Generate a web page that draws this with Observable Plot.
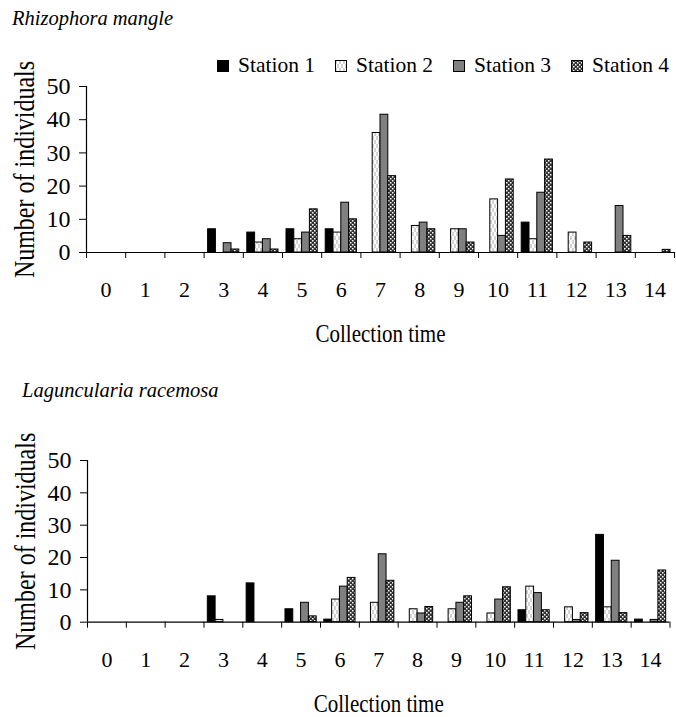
<!DOCTYPE html>
<html><head><meta charset="utf-8">
<script src="https://cdn.jsdelivr.net/npm/d3@7"></script>
<script src="https://cdn.jsdelivr.net/npm/@observablehq/plot@0.6"></script>
<style>
body{margin:0;background:#fff;font-family:"Liberation Serif",serif;color:#000}
#wrap{position:relative;width:676px;height:717px;overflow:hidden;background:#fff}
.title{position:absolute;font-style:italic;font-size:20.5px;line-height:1;white-space:nowrap}
.legend{position:absolute;display:flex;font-size:21.5px;line-height:1}
.legend .item{display:flex;align-items:center;width:118px;white-space:nowrap}
.legend svg{margin-right:9px;display:block}
.plot{position:absolute;left:0}
</style></head>
<body>
<svg width="0" height="0" style="position:absolute">
<defs>
<pattern id="pat2" width="4" height="8" patternUnits="userSpaceOnUse">
<rect width="4" height="8" fill="#fff"/><rect width="2" height="4" fill="#d2d2d2"/><rect x="2" y="4" width="2" height="4" fill="#d2d2d2"/>
</pattern>
<pattern id="pat4" width="4" height="4" patternUnits="userSpaceOnUse">
<rect width="4" height="4" fill="#333"/><rect width="1.5" height="1.5" fill="#fff"/><rect x="2" y="2" width="1.5" height="1.5" fill="#fff"/>
</pattern>
</defs></svg>
<div id="wrap"></div>
<script>
// ---- data ----
const collectionTimes = [0,1,2,3,4,5,6,7,8,9,10,11,12,13,14];
const stations = ["Station 1","Station 2","Station 3","Station 4"];
const yTicks = [0,10,20,30,40,50];
const xTitle = "Collection time";
const yTitle = "Number of individuals";

// Rhizophora mangle
const rhizophoraStation1 = [0,0,0,7,6,7,7,0,0,0,0,9,0,0,0];
const rhizophoraStation2 = [0,0,0,0,3,4,6,36,8,7,16,4,6,0,0];
const rhizophoraStation3 = [0,0,0,2.8,4,6,15,41.5,9,7,5,18,0,14,0];
const rhizophoraStation4 = [0,0,0,0.9,0.9,13,10,23,7,3,22,28,3,5,0.8];

// Laguncularia racemosa
const laguncStation1 = [0,0,0,8,12,4,0.8,0,0,0,0,3.7,0,27,0.8];
const laguncStation2 = [0,0,0,0.7,0,0,7,6,4,4,2.7,11,4.6,4.6,0];
const laguncStation3 = [0,0,0,0,0,6,11,21,2.7,6,7,9,0.7,19,0.7];
const laguncStation4 = [0,0,0,0,0,1.8,13.7,12.8,4.7,8,10.8,3.7,2.8,2.8,16];

const fills = ["#000000","url(#pat2)","#808080","url(#pat4)"];

function rowsOf(series){
  const rows = [];
  series.forEach((vals, si) => vals.forEach((v, ti) => rows.push({time: collectionTimes[ti], station: stations[si], value: v})));
  return rows;
}

function makeChart({series, left, right, y0, y50, top, height}){
  const rows = rowsOf(series);
  const band = (right - left) / 15;
  const bw = 7.8;
  const pad = (band - 4*bw) / 2;
  const chart = Plot.plot({
    width: 676, height,
    marginLeft: left, marginRight: 676 - right,
    marginTop: y50 - top, marginBottom: top + height - y0,
    x: {domain: [0, 15], axis: null},
    y: {domain: [0, 50], axis: null},
    style: {fontFamily: "Liberation Serif", fontSize: "22px", color: "#000", background: "transparent", overflow: "visible"},
    marks: [
      ...stations.map((s, i) => Plot.rectY(rows.filter(d => d.station === s && d.value > 0), {
        x: "time", y: "value", interval: 1,
        insetLeft: pad + i*bw, insetRight: band - pad - (i+1)*bw,
        fill: fills[i], stroke: "#000", strokeWidth: 1
      })),
      Plot.ruleY([0], {stroke: "#000", strokeWidth: 1.2}),
      Plot.ruleX([0], {stroke: "#000", strokeWidth: 1.2}),
      Plot.axisY({ticks: yTicks, tickSize: 7, tickPadding: 9, fontSize: 24, label: null}),
      Plot.axisX({ticks: d3.range(16), tickSize: 6, tickFormat: () => "", label: null}),
      Plot.axisX({ticks: collectionTimes.map(t => t + 0.5), tickSize: 0, tickPadding: 29, tickFormat: d => String(Math.round(d - 0.5)), label: null}),
      Plot.text([xTitle], {text: d => d, frameAnchor: "bottom", dy: 72, lineAnchor: "top", fontSize: 21}),
      Plot.text([yTitle], {text: d => d, frameAnchor: "left", textAnchor: "middle", rotate: -90, dx: -73, lineAnchor: "top", fontSize: 24})
    ]
  });
  // axis titles are drawn in a taller face in the reference
  chart.querySelectorAll("text").forEach(t => {
    if (t.textContent === xTitle || t.textContent === yTitle) {
      const tr = t.getAttribute("transform") || "";
      t.setAttribute("transform", tr + " scale(1,1.2)");
    }
  });
  chart.classList.add("plot");
  chart.style.top = top + "px";
  return chart;
}

const wrap = document.getElementById("wrap");

function addTitle(text, left, top){
  const t = document.createElement("div");
  t.className = "title"; t.textContent = text;
  t.style.left = left + "px"; t.style.top = top + "px";
  wrap.appendChild(t);
}

addTitle("Rhizophora mangle", 12, 8);
addTitle("Laguncularia racemosa", 22, 380);

// legend
const legend = document.createElement("div");
legend.className = "legend";
legend.style.left = "217px"; legend.style.top = "55px";
stations.forEach((s, i) => {
  const item = document.createElement("div");
  item.className = "item";
  item.innerHTML = `<svg width="12" height="12"><rect x="0.5" y="0.5" width="11" height="11" fill="${fills[i]}" stroke="#000"/></svg><span>${s}</span>`;
  legend.appendChild(item);
});
wrap.appendChild(legend);

wrap.appendChild(makeChart({
  series: [rhizophoraStation1, rhizophoraStation2, rhizophoraStation3, rhizophoraStation4],
  left: 86, right: 674, y0: 252, y50: 86, top: 40, height: 310
}));
wrap.appendChild(makeChart({
  series: [laguncStation1, laguncStation2, laguncStation3, laguncStation4],
  left: 87, right: 669.5, y0: 621.7, y50: 460, top: 410, height: 307
}));
</script>
</body></html>
